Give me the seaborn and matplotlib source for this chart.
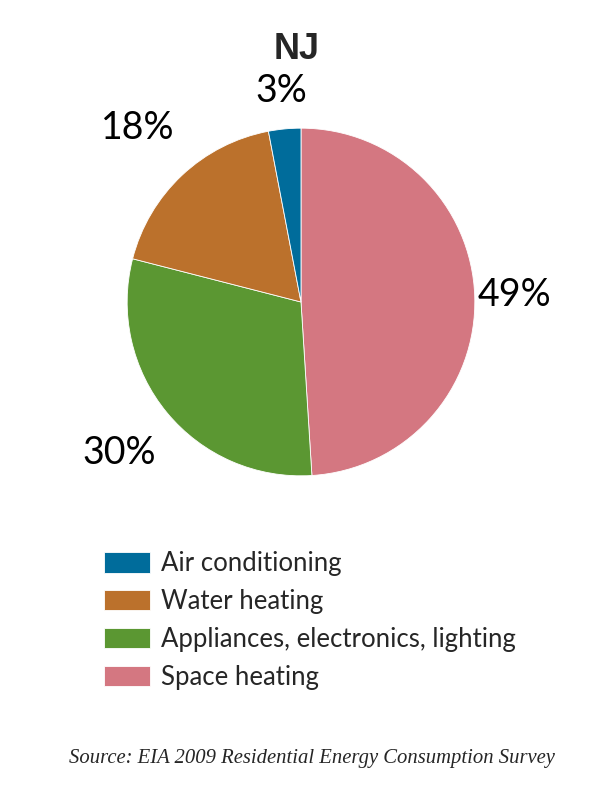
import numpy as np
import matplotlib
matplotlib.use('Agg')
import matplotlib.pyplot as plt
import seaborn as sns

sns.set_theme(style='white')
plt.rcParams['font.family'] = ['Lato', 'DejaVu Sans']

# data, in drawing order (clockwise from 12 o'clock)
categories = ['Space heating', 'Appliances, electronics, lighting', 'Water heating', 'Air conditioning']
shares = [49, 30, 18, 3]
colors = ['#d47781', '#5b9732', '#bb712c', '#006c9b']
label_dist = [1.23, 1.36, 1.37, 1.22]
legend_order = ['Air conditioning', 'Water heating', 'Appliances, electronics, lighting', 'Space heating']

palette = sns.color_palette(colors)

fig = plt.figure(figsize=(6, 8), dpi=100)
ax = fig.add_axes([0.125, 0.34, 0.7533, 0.565])

wedges, _ = ax.pie(shares, colors=palette, startangle=90, counterclock=False,
                   radius=1.0, wedgeprops=dict(edgecolor='white', linewidth=0.6))
ax.set_xlim(-1.3, 1.3)
ax.set_ylim(-1.3, 1.3)
ax.set_aspect('equal')
ax.axis('off')

for w, val, d in zip(wedges, shares, label_dist):
    ang = np.deg2rad((w.theta1 + w.theta2) / 2)
    ax.text(d * np.cos(ang), d * np.sin(ang), f'{val}%', ha='center', va='center',
            fontsize=27, color='black')

fig.text(0.495, 0.938, 'NJ', ha='center', va='center', fontsize=26, fontweight='bold',
         family=['Liberation Sans', 'DejaVu Sans'])

handle_map = dict(zip(categories, wedges))
fig.legend([handle_map[c] for c in legend_order], legend_order,
           loc='upper left', bbox_to_anchor=(0.1733, 0.311), frameon=False,
           fontsize=18.5, handlelength=1.79, handleheight=0.86, handletextpad=0.43,
           labelspacing=0.5, borderpad=0, borderaxespad=0)

fig.text(0.52, 0.052, 'Source: EIA 2009 Residential Energy Consumption Survey',
         ha='center', va='center', fontsize=14.9, style='italic',
         family=['Liberation Serif', 'DejaVu Serif'])

fig.savefig('out.png', dpi=100)
